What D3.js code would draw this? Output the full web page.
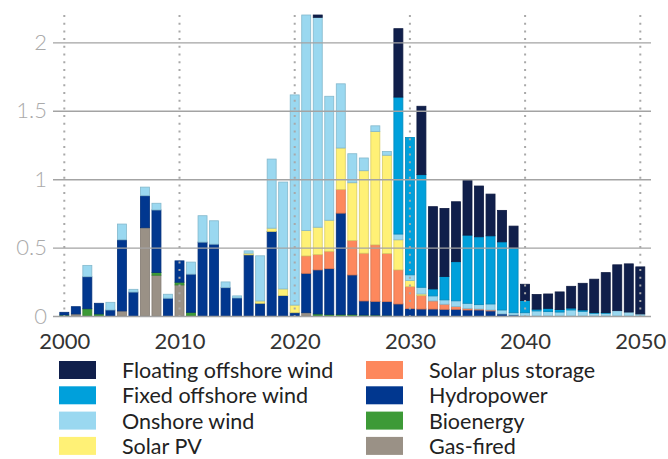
<!DOCTYPE html>
<html>
<head>
<meta charset="utf-8">
<script src="https://cdn.jsdelivr.net/npm/d3@7"></script>
<style>
  html, body { margin: 0; padding: 0; background: #fff; }
  svg { display: block; font-family: Lato, "Open Sans", sans-serif; }
</style>
</head>
<body>
<svg id="chart" width="668" height="459"></svg>
<script>
// Annual capacity additions by technology, 2000–2050
const years = d3.range(2000, 2051);

const gasFired = [0, 0.015, 0, 0, 0, 0.037, 0, 0.645, 0.298, 0, 0.227, 0, 0, 0, 0, 0, 0, 0, 0, 0,
  0, 0.024, 0, 0, 0, 0, 0, 0, 0, 0, 0, 0, 0, 0, 0, 0, 0, 0, 0, 0,
  0, 0, 0, 0, 0, 0, 0, 0, 0, 0, 0];
const bioenergy = [0.007, 0, 0.053, 0.015, 0, 0, 0, 0, 0.02, 0, 0.02, 0.027, 0, 0, 0, 0, 0, 0, 0, 0,
  0, 0, 0.015, 0.012, 0.012, 0.012, 0.007, 0.007, 0.005, 0, 0, 0, 0, 0, 0, 0, 0, 0, 0, 0,
  0, 0, 0, 0, 0, 0, 0, 0, 0, 0, 0];
const hydropower = [0.02, 0.053, 0.234, 0.078, 0.044, 0.52, 0.175, 0.234, 0.457, 0.13, 0.156, 0.279, 0.54, 0.525, 0.207, 0.132, 0.447, 0.093, 0.618, 0.149,
  0.024, 0.288, 0.322, 0.334, 0.74, 0.288, 0.103, 0.1, 0.1, 0.088, 0.054, 0.051, 0.051, 0.049, 0.049, 0.044, 0.044, 0.037, 0.015, 0.007,
  0, 0, 0, 0, 0, 0, 0, 0, 0, 0, 0];
const solarPlusStorage = [0, 0, 0, 0, 0, 0, 0, 0, 0, 0, 0, 0, 0, 0, 0, 0, 0, 0, 0, 0,
  0, 0.127, 0.112, 0.127, 0.173, 0.252, 0.349, 0.413, 0.352, 0.249, 0.161, 0.1, 0.059, 0.037, 0.02, 0.012, 0.007, 0.007, 0, 0,
  0, 0, 0, 0, 0, 0, 0, 0, 0, 0, 0];
const solarPV = [0, 0, 0, 0, 0, 0, 0, 0, 0, 0, 0, 0, 0, 0, 0, 0, 0.012, 0.017, 0.024, 0.049,
  0.056, 0.186, 0.2, 0.227, 0.303, 0.422, 0.603, 0.828, 0.718, 0.22, 0.044, 0.01, 0, 0, 0, 0, 0, 0, 0, 0,
  0, 0, 0, 0, 0, 0, 0, 0, 0, 0, 0];
const onshoreWind = [0, 0, 0.083, 0, 0.056, 0.115, 0.02, 0.063, 0.049, 0.029, 0, 0.088, 0.193, 0.171, 0.042, 0.015, 0.017, 0.33, 0.505, 0.781,
  1.536, 1.575, 1.534, 0.906, 0.469, 0.212, 0.093, 0.042, 0.027, 0.042, 0.042, 0.049, 0.037, 0.032, 0.042, 0.037, 0.032, 0.044, 0.029, 0.017,
  0.024, 0.037, 0.032, 0.029, 0.044, 0.034, 0.02, 0.02, 0.039, 0.029, 0.015];
const fixedOffshoreWind = [0, 0, 0, 0, 0, 0, 0, 0, 0, 0, 0, 0, 0, 0, 0, 0, 0, 0, 0, 0,
  0, 0, 0, 0, 0, 0, 0, 0, 0, 1.001, 1.004, 0.823, 0.051, 0.171, 0.286, 0.498, 0.496, 0.498, 0.498, 0.474,
  0.09, 0.013, 0.024, 0.018, 0.014, 0.01, 0.005, 0.005, 0, 0, 0];
const floatingOffshoreWind = [0, 0, 0, 0, 0, 0, 0, 0, 0, 0, 0, 0, 0, 0, 0, 0, 0, 0, 0, 0,
  0, 0, 0.017, 0, 0, 0, 0, 0, 0, 0.5, 0, 0.5, 0.601, 0.497, 0.438, 0.405, 0.371, 0.305, 0.23, 0.159,
  0.118, 0.107, 0.105, 0.129, 0.159, 0.195, 0.244, 0.292, 0.335, 0.352, 0.344];

// Stack order: bottom to top
const seriesKeys = ["gas", "bio", "hydro", "storage", "solar", "onshore", "fixed", "floating"];
const seriesValues = {
  gas: gasFired, bio: bioenergy, hydro: hydropower, storage: solarPlusStorage,
  solar: solarPV, onshore: onshoreWind, fixed: fixedOffshoreWind, floating: floatingOffshoreWind
};
const seriesLabels = {
  floating: "Floating offshore wind", fixed: "Fixed offshore wind", onshore: "Onshore wind",
  solar: "Solar PV", storage: "Solar plus storage", hydro: "Hydropower",
  bio: "Bioenergy", gas: "Gas-fired"
};
const seriesColors = {
  floating: "#101f4b", fixed: "#00a0db", onshore: "#9ad8f0", solar: "#fff176",
  storage: "#fd885d", hydro: "#01378f", bio: "#3d9a37", gas: "#9a9186"
};
const legendColumns = [["floating", "fixed", "onshore", "solar"], ["storage", "hydro", "bio", "gas"]];

const yTicks = [0, 0.5, 1, 1.5, 2];
const yTickLabels = ["0", "0.5", "1", "1.5", "2"];
const xTicks = [2000, 2010, 2020, 2030, 2040, 2050];

const table = years.map((yr, i) => {
  const row = { year: yr };
  seriesKeys.forEach(k => row[k] = seriesValues[k][i]);
  return row;
});

const svg = d3.select("#chart");

const x = d3.scaleLinear().domain([2000, 2050]).range([64.3, 640.3]);
const y = d3.scaleLinear().domain([0, 2.2]).range([316, 15]);
const barW = 9;

const stack = d3.stack().keys(seriesKeys)(table);

// Bars
const gBars = svg.append("g");
gBars.selectAll("g.series")
  .data(stack)
  .join("g")
  .attr("class", "series")
  .attr("fill", d => seriesColors[d.key])
  .attr("stroke", d => d3.color(seriesColors[d.key]).darker(0.45))
  .attr("stroke-width", 0.8)
  .selectAll("rect")
  .data(d => d.filter(s => s[1] - s[0] > 0))
  .join("rect")
  .attr("x", d => x(d.data.year) - barW / 2)
  .attr("width", barW)
  .attr("y", d => y(d[1]))
  .attr("height", d => y(d[0]) - y(d[1]));

// Horizontal gridlines with y labels
const gridLeft = 53, gridRight = 651;
const yAxis = d3.axisLeft(y)
  .tickValues(yTicks)
  .tickFormat((d, i) => yTickLabels[i])
  .tickSize(-(gridRight - gridLeft))
  .tickPadding(6);

const gy = svg.append("g")
  .attr("transform", `translate(${gridLeft},0)`)
  .call(yAxis);
gy.select(".domain").remove();
gy.selectAll(".tick line")
  .attr("stroke", "#a3a3a3")
  .attr("stroke-width", 1.4)
  .attr("x1", 0).attr("x2", gridRight - gridLeft);
gy.selectAll(".tick text")
  .attr("fill", "#aaaaaa")
  .attr("font-size", 22)
  .attr("font-weight", 300)
  .attr("font-family", "Lato, sans-serif");

// Dotted vertical markers every decade
svg.append("g")
  .selectAll("line")
  .data(xTicks)
  .join("line")
  .attr("x1", d => x(d)).attr("x2", d => x(d))
  .attr("y1", 15).attr("y2", 316)
  .attr("stroke", "#a9a9a9")
  .attr("stroke-width", 2)
  .attr("stroke-dasharray", "2,5.7");

// Decade labels
const xAxis = d3.axisBottom(x)
  .tickValues(xTicks)
  .tickFormat(d3.format("d"))
  .tickSize(0)
  .tickPadding(0);
const gx = svg.append("g")
  .attr("transform", "translate(0,333)")
  .call(xAxis);
gx.select(".domain").remove();
gx.selectAll(".tick text")
  .attr("fill", "#333")
  .attr("font-size", 22)
  .attr("font-family", "Lato, sans-serif")
  .attr("dy", "0.71em");

// Legend
const legend = svg.append("g");
const colX = [59, 366];
legendColumns.forEach((col, ci) => {
  col.forEach((key, ri) => {
    const gy0 = 361 + ri * 25.3;
    const item = legend.append("g");
    item.append("rect")
      .attr("x", colX[ci]).attr("y", gy0)
      .attr("width", 37).attr("height", 18)
      .attr("fill", seriesColors[key]);
    item.append("text")
      .attr("x", colX[ci] + 63).attr("y", gy0 + 17)
      .attr("fill", "#222")
      .attr("font-size", 21.5)
      .text(seriesLabels[key]);
  });
});
</script>
</body>
</html>
